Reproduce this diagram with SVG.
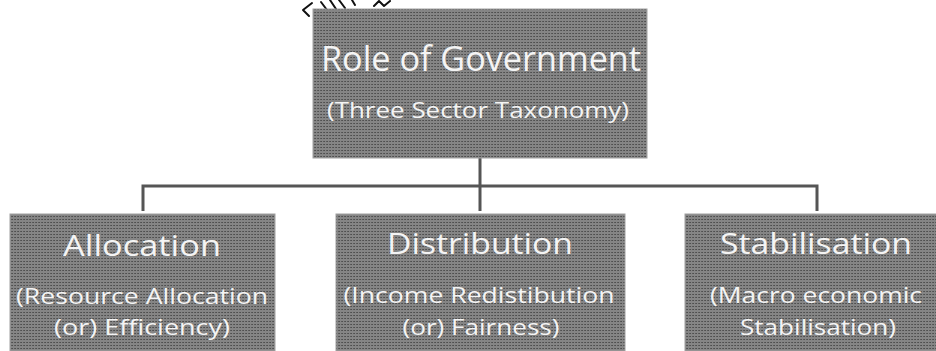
<svg xmlns="http://www.w3.org/2000/svg" width="936" height="351" viewBox="0 0 936 351">
  <defs>
    <!-- dotted grey screen used for the box fills -->
    <pattern id="screen" width="3" height="3" patternUnits="userSpaceOnUse">
      <rect width="3" height="3" fill="#858585"/>
      <rect x="0" y="0" width="1" height="1" fill="#4f4f4f"/>
      <rect x="2" y="0" width="1" height="1" fill="#5a5a5a"/>
    </pattern>
    <style>
      .box { fill: url(#screen); stroke: #a0a0a0; stroke-width: 1; }
      .title { font-family: "Open Sans", "Noto Sans", sans-serif; fill: #f4f4f4; text-anchor: middle; }
      .big { font-size: 34px; }
      .mid { font-size: 30px; }
      .sub { font-size: 22px; }
      .link { fill: none; stroke: #555555; stroke-width: 3; }
      .scrib { fill: none; stroke: #111111; stroke-width: 2; stroke-linecap: round; stroke-linejoin: round; }
    </style>
  </defs>
  <rect width="936" height="351" fill="#ffffff"/>

  <!-- partial sketch strokes above the top box -->
  <g id="scribble">
    <polyline class="scrib" points="312,3 303,10 309,16"/>
    <line class="scrib" x1="321" y1="2" x2="327" y2="10"/>
    <line class="scrib" x1="330" y1="0" x2="336" y2="9"/>
    <line class="scrib" x1="339" y1="0" x2="345" y2="8"/>
    <line class="scrib" x1="352" y1="0" x2="355" y2="5"/>
    <polyline class="scrib" points="374,6 379,1 384,6 390,1"/>
  </g>

  <g id="connectors">
    <line class="link" x1="480" y1="158" x2="480" y2="211"/>
    <polyline class="link" points="143,211 143,186 817,186 817,211"/>
  </g>

  <g id="role-of-government">
    <rect class="box" x="313" y="9" width="334" height="149"/>
    <text class="title big" x="481" y="71" textLength="320" lengthAdjust="spacingAndGlyphs">Role of Government</text>
    <text class="title sub" x="478" y="118" textLength="302" lengthAdjust="spacingAndGlyphs">(Three Sector Taxonomy)</text>
  </g>

  <g id="allocation">
    <rect class="box" x="10" y="214" width="265" height="137"/>
    <text class="title mid" x="142" y="256" textLength="158" lengthAdjust="spacingAndGlyphs">Allocation</text>
    <text class="title sub" x="142" y="304" textLength="252" lengthAdjust="spacingAndGlyphs">(Resource Allocation</text>
    <text class="title sub" x="142" y="335" textLength="176" lengthAdjust="spacingAndGlyphs">(or) Efficiency)</text>
  </g>

  <g id="distribution">
    <rect class="box" x="336" y="214" width="289" height="137"/>
    <text class="title mid" x="480" y="254" textLength="186" lengthAdjust="spacingAndGlyphs">Distribution</text>
    <text class="title sub" x="479" y="303" textLength="271" lengthAdjust="spacingAndGlyphs">(Income Redistibution</text>
    <text class="title sub" x="481" y="335" textLength="157" lengthAdjust="spacingAndGlyphs">(or) Fairness)</text>
  </g>

  <g id="stabilisation">
    <rect class="box" x="685" y="214" width="252" height="137"/>
    <text class="title mid" x="816" y="254" textLength="192" lengthAdjust="spacingAndGlyphs">Stabilisation</text>
    <text class="title sub" x="816" y="303" textLength="212" lengthAdjust="spacingAndGlyphs">(Macro economic</text>
    <text class="title sub" x="818" y="335" textLength="156" lengthAdjust="spacingAndGlyphs">Stabilisation)</text>
  </g>
</svg>
